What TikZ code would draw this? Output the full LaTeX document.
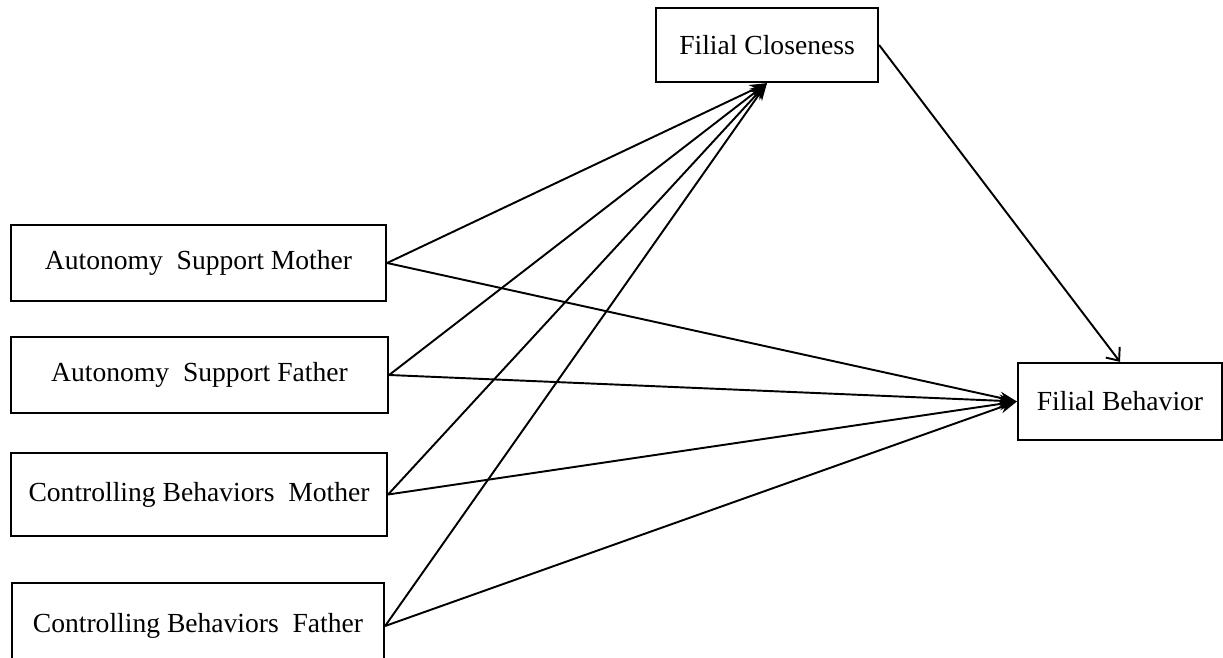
\documentclass[tikz,border=0pt]{standalone}
\usepackage{fontspec}
\setmainfont{Liberation Serif}
\usepackage{tikz}
\usetikzlibrary{arrows.meta}
\tikzset{
    % Box styles
    var/.style={rectangle, draw, line width=1.3pt, inner sep=0pt, font=\fontsize{15.7}{18}\selectfont, minimum height=1.52cm},
    predictor/.style={var, minimum width=7.5cm},
    outcome/.style={var},
    % Path styles
    path/.style={-{Stealth[length=10pt,width=7pt]}, line width=1.1pt},
    mediated/.style={-{Straight Barb[length=6pt,width=10pt]}, line width=1.1pt}
}
\begin{document}
\begin{tikzpicture}[x=0.02cm, y=-0.02cm]
\useasboundingbox (0,0) rectangle (1223,658);
\clip (0,0) rectangle (1223,658);

% Predictors
\node[predictor] (asm) at (198.5,263) {Autonomy~ Support Mother};
\node[predictor, minimum width=7.54cm] (asf) at (199.5,375) {Autonomy~ Support Father};
\node[predictor, minimum width=7.52cm, minimum height=1.66cm] (cbm) at (199,494.5) {Controlling Behaviors~ Mother};
\node[predictor, minimum width=7.44cm, minimum height=1.72cm] (cbf) at (198,626) {Controlling Behaviors~ Father};

% Mediator and outcome
\node[outcome, minimum width=4.44cm, minimum height=1.48cm] (fc) at (767,45) {Filial Closeness};
\node[outcome, minimum width=4.08cm, minimum height=1.54cm] (fb) at (1120,401.5) {Filial Behavior};

% Paths
\foreach \p in {asm,asf,cbm,cbf} {
    \draw[path] (\p.east) -- (fc.south);
    \draw[path] (\p.east) -- (fb.west);
}
\draw[mediated] (fc.east) -- (fb.north);
\end{tikzpicture}
\end{document}
